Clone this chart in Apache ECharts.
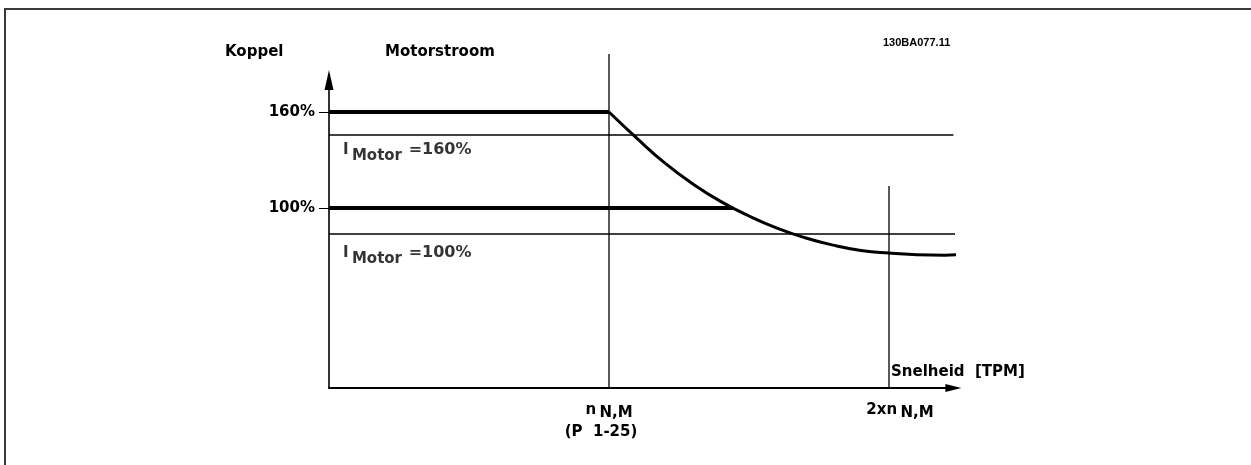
<!DOCTYPE html>
<html>
<head>
<meta charset="utf-8">
<script src="https://cdn.jsdelivr.net/npm/echarts@6/dist/echarts.min.js"></script>
<style>
  html, body { margin: 0; padding: 0; background: #fff; }
  #chart { width: 1251px; height: 465px; }
</style>
</head>
<body>
<div id="chart"></div>
<script>
// Speed in multiples of nominal motor speed n N,M
const speedTicks = [1, 2];
const speedLabels = ['n', '2xn'];
const speedLabelSub = 'N,M';
const speedNote = '(P  1-25)';

// Torque axis (Koppel), percent of nominal
const torqueTicks = [100, 160];
const torqueLabels = ['100%', '160%'];

// Torque limit held at 160 % up to nominal speed, then field weakening
const limit160Speed = [0, 1];
const limit160Torque = [160, 160];
const limit100Speed = [0, 1.443];
const limit100Torque = [100, 100];

const curveSpeed = [1.0, 1.1, 1.2, 1.3, 1.4, 1.5, 1.6, 1.7, 1.8, 1.9, 2.0, 2.1, 2.2, 2.246];
const curveTorque = [160, 143.5, 128.0, 115.0, 104.0, 95.0, 87.4, 81.4, 76.8, 73.5, 71.8, 70.8, 70.5, 70.8];

// Motor current levels (Motorstroom)
const currentLevels = [160, 100];
const currentLineEnd = [2.23, 2.24];
const currentLabels = ['=160%', '=100%'];

// Reference speed markers
const markerSpeed = [1, 2];
const markerTop = [196.25, 113.75];

const axisBottom = -12.5;
const font = 'DejaVu Sans';
const txt = { fontFamily: font, fontSize: 15, fontWeight: 'bold', color: '#000' };

function pairs(xs, ys) { return xs.map((x, i) => [x, ys[i]]); }

const thick = { color: '#000', width: 4 };
const series = [];

series.push({
  type: 'line', data: pairs(limit160Speed, limit160Torque), symbol: 'none',
  lineStyle: thick, clip: false, silent: true
});
series.push({
  type: 'line', data: pairs(limit100Speed, limit100Torque), symbol: 'none',
  lineStyle: thick, clip: false, silent: true
});
series.push({
  type: 'line', data: pairs(curveSpeed, curveTorque), symbol: 'none',
  smooth: true,
  lineStyle: { color: '#000', width: 3 }, clip: false, silent: true
});

currentLevels.forEach((lv, i) => {
  series.push({
    type: 'line', yAxisIndex: 1, data: [[0, lv], [currentLineEnd[i], lv]], symbol: 'none',
    lineStyle: { color: '#000', width: 1.3 }, clip: false, silent: true
  });
});

series.push({
  type: 'scatter', yAxisIndex: 1, symbolSize: 0, silent: true, clip: false,
  data: currentLevels.map((lv, i) => ({
    value: [0, lv],
    label: { position: [14, i === 0 ? 15 : 19] }
  })),
  label: {
    show: true, align: 'left', verticalAlign: 'middle', color: '#000',
    textBorderWidth: 0,
    formatter: (p) => '{i|I} {s|Motor}  {e|' + currentLabels[p.dataIndex] + '}',
    rich: {
      i: Object.assign({}, txt, { fontSize: 15 }),
      s: Object.assign({}, txt, { padding: [12, 0, 0, 0] }),
      e: Object.assign({}, txt, { fontSize: 16 })
    }
  }
});

markerSpeed.forEach((s, i) => {
  series.push({
    type: 'line', data: [[s, axisBottom], [s, markerTop[i]]], symbol: 'none',
    lineStyle: { color: '#000', width: 1.3 }, clip: false, silent: true, z: 1
  });
});

const option = {
  animation: false,
  backgroundColor: '#fff',
  title: [
    { text: 'Koppel', left: 225, top: 45, padding: 0, textStyle: txt },
    { text: 'Motorstroom', left: 385, top: 45, padding: 0, textStyle: txt },
    { text: '130BA077.11', left: 883, top: 37, padding: 0,
      textStyle: { fontFamily: 'Liberation Sans', fontSize: 11, fontWeight: 'bold', color: '#000' } },
    { text: 'Snelheid  [TPM]', left: 891, top: 365, padding: 0, textStyle: txt }
  ],
  graphic: [
    { type: 'line', shape: { x1: 4, y1: 9, x2: 1251, y2: 9 }, style: { stroke: '#3a3a3a', lineWidth: 2 } },
    { type: 'line', shape: { x1: 5, y1: 8, x2: 5, y2: 465 }, style: { stroke: '#3a3a3a', lineWidth: 2 } }
  ],
  grid: { left: 329, top: 80, width: 624.4, height: 308, containLabel: false },
  xAxis: {
    type: 'value', min: 0, max: 2.23,
    splitLine: { show: false },
    axisLine: { onZero: false, lineStyle: { color: '#000', width: 2 },
      symbol: ['none', 'triangle'], symbolSize: [8, 16] },
    axisTick: { show: false },
    axisLabel: {
      customValues: speedTicks, margin: 12, color: '#000',
      formatter: (v) => {
        const i = speedTicks.indexOf(v);
        if (i === 0) return '{n|' + speedLabels[i] + '} {s|' + speedLabelSub + '}\n{p|' + speedNote + '}';
        if (i === 1) return '{n2|' + speedLabels[i] + '} {s|' + speedLabelSub + '}';
        return '';
      },
      rich: {
        n: Object.assign({}, txt, { lineHeight: 20 }),
        n2: Object.assign({}, txt, { lineHeight: 20, padding: [0, 0, 0, 22] }),
        s: Object.assign({}, txt, { lineHeight: 20, padding: [6, 0, 0, 0] }),
        p: Object.assign({}, txt, { lineHeight: 24, padding: [0, 16, 0, 0] })
      }
    }
  },
  yAxis: [
    {
      type: 'value', min: axisBottom, max: 180,
      splitLine: { show: false },
      axisLine: { onZero: false, lineStyle: { color: '#000', width: 1.6 },
        symbol: ['none', 'triangle'], symbolSize: [9, 20] },
      axisTick: { customValues: torqueTicks, length: 10, lineStyle: { color: '#000', width: 1 } },
      axisLabel: Object.assign({
        customValues: torqueTicks, margin: 14,
        formatter: (v) => torqueLabels[torqueTicks.indexOf(v)] || ''
      }, txt)
    },
    {
      type: 'value', min: 20 / 3, max: 580 / 3, show: false,
      splitLine: { show: false }
    }
  ],
  series: series
};

const chart = echarts.init(document.getElementById('chart'), null, { renderer: 'canvas' });
chart.setOption(option);
</script>
</body>
</html>
